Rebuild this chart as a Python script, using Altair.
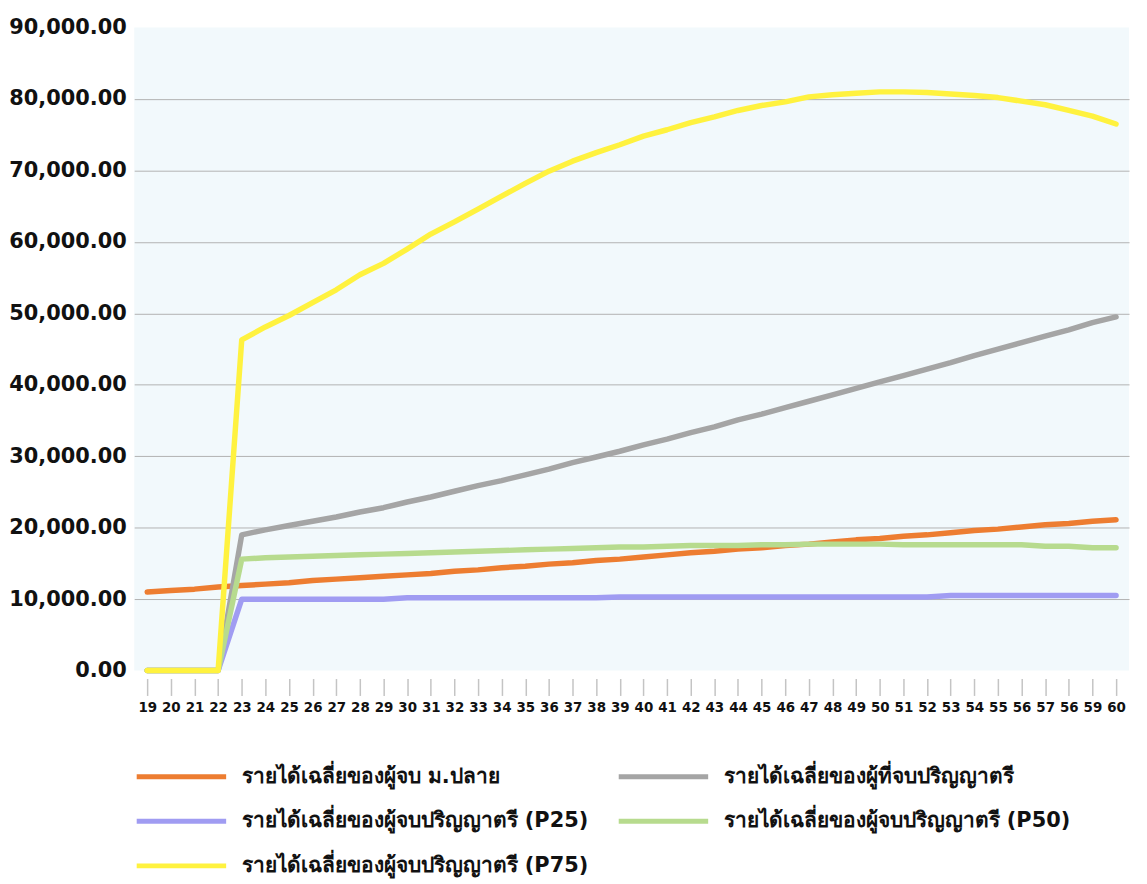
import json
import altair as alt
import pandas as pd

ages = list(range(19, 61))
tick_labels = ["19", "20", "21", "22", "23", "24", "25", "26", "27", "28", "29", "30",
               "31", "32", "33", "34", "35", "36", "37", "38", "39", "40", "41", "42",
               "43", "44", "45", "46", "47", "48", "49", "50", "51", "52", "53", "54",
               "55", "56", "57", "56", "59", "60"]

series_names = [
    "รายได้เฉลี่ยของผู้จบ ม.ปลาย",
    "รายได้เฉลี่ยของผู้ที่จบปริญญาตรี",
    "รายได้เฉลี่ยของผู้จบปริญญาตรี (P25)",
    "รายได้เฉลี่ยของผู้จบปริญญาตรี (P50)",
    "รายได้เฉลี่ยของผู้จบปริญญาตรี (P75)",
]
series_colors = ["#ED7D31", "#A5A5A5", "#A09CF2", "#B7DB8E", "#FFF23F"]

high_school = [11000, 11200, 11400, 11700, 11900, 12100, 12300, 12600, 12800, 13000,
               13200, 13400, 13600, 13900, 14100, 14400, 14600, 14900, 15100, 15400,
               15600, 15900, 16200, 16500, 16700, 17000, 17200, 17500, 17700, 18000,
               18300, 18500, 18800, 19000, 19300, 19600, 19800, 20100, 20400, 20600,
               20900, 21100]
bachelor = [0, 0, 0, 0, 19000, 19700, 20300, 20900, 21500, 22200, 22800, 23600, 24300,
            25100, 25900, 26600, 27400, 28200, 29100, 29900, 30700, 31600, 32400, 33300,
            34100, 35100, 35900, 36800, 37700, 38600, 39500, 40400, 41300, 42200, 43100,
            44100, 45000, 45900, 46800, 47700, 48700, 49500]
p25 = [0, 0, 0, 0, 10000, 10000, 10000, 10000, 10000, 10000, 10000, 10200, 10200,
       10200, 10200, 10200, 10200, 10200, 10200, 10200, 10300, 10300, 10300, 10300,
       10300, 10300, 10300, 10300, 10300, 10300, 10300, 10300, 10300, 10300, 10500,
       10500, 10500, 10500, 10500, 10500, 10500, 10500]
p50 = [0, 0, 0, 0, 15600, 15800, 15900, 16000, 16100, 16200, 16300, 16400, 16500,
       16600, 16700, 16800, 16900, 17000, 17100, 17200, 17300, 17300, 17400, 17500,
       17500, 17500, 17600, 17600, 17700, 17700, 17700, 17700, 17600, 17600, 17600,
       17600, 17600, 17600, 17400, 17400, 17200, 17200]
p75 = [0, 0, 0, 0, 46300, 48100, 49700, 51500, 53300, 55400, 57000, 59000, 61100,
       62800, 64600, 66400, 68200, 69900, 71300, 72500, 73600, 74800, 75700, 76700,
       77500, 78400, 79100, 79600, 80300, 80600, 80800, 81000, 81000, 80900, 80700,
       80500, 80200, 79700, 79200, 78400, 77600, 76500]

all_values = [high_school, bachelor, p25, p50, p75]
rows = []
for name, vals in zip(series_names, all_values):
    for a, v in zip(ages, vals):
        rows.append({"age": a, "value": v, "series": name})
df = pd.DataFrame(rows)

label_expr = f"{json.dumps(tick_labels)}[indexof({json.dumps(ages)}, datum.value)]"

FONT = "DejaVu Sans"

chart = alt.Chart(df).mark_line(strokeWidth=5.5, strokeCap="round", strokeJoin="round").encode(
    x=alt.X("age:O", sort=ages, scale=alt.Scale(type="point", padding=0.55),
            axis=alt.Axis(title=None, labelExpr=label_expr, labelAngle=0, domain=False,
                          tickColor="#C4C4C4", tickWidth=1.5, tickSize=17, offset=8,
                          labelPadding=5, labelFont=FONT, labelFontSize=13.5,
                          labelFontWeight="bold", labelColor="#111111")),
    y=alt.Y("value:Q", scale=alt.Scale(domain=[0, 90000], nice=False),
            axis=alt.Axis(title=None, values=list(range(0, 90001, 10000)), format=",.2f",
                          domain=False, ticks=False, labelPadding=8,
                          labelFont=FONT, labelFontSize=21, labelFontWeight="bold",
                          labelColor="#111111", gridColor="#B2B2B2", gridWidth=1,
                          gridOpacity=alt.ExprRef("datum.value == 0 || datum.value == 90000 ? 0 : 1"))),
    color=alt.Color("series:N", sort=series_names,
                    scale=alt.Scale(domain=series_names, range=series_colors),
                    legend=alt.Legend(title=None, orient="none", legendX=35, legendY=741,
                                      direction="horizontal",
                                      columns=2, columnPadding=20, rowPadding=22,
                                      symbolType="M-4.5,0H4.5", symbolSize=400,
                                      symbolStrokeWidth=5, labelOffset=48,
                                      labelFont=FONT, labelFontSize=21,
                                      labelFontWeight="bold", labelColor="#111111",
                                      labelLimit=500)),
    order=alt.Order("series_order:Q"),
).transform_calculate(
    series_order=f"indexof({json.dumps(series_names)}, datum.series)"
).properties(
    width=1001, height=647,
    autosize=alt.AutoSizeParams(type="none"),
    padding={"left": 127, "top": 17, "right": 10, "bottom": 208},
).configure_view(
    fill="#F2F9FC", stroke=None
)

chart.save("out.html", embed_options={"renderer": "svg", "actions": False})
